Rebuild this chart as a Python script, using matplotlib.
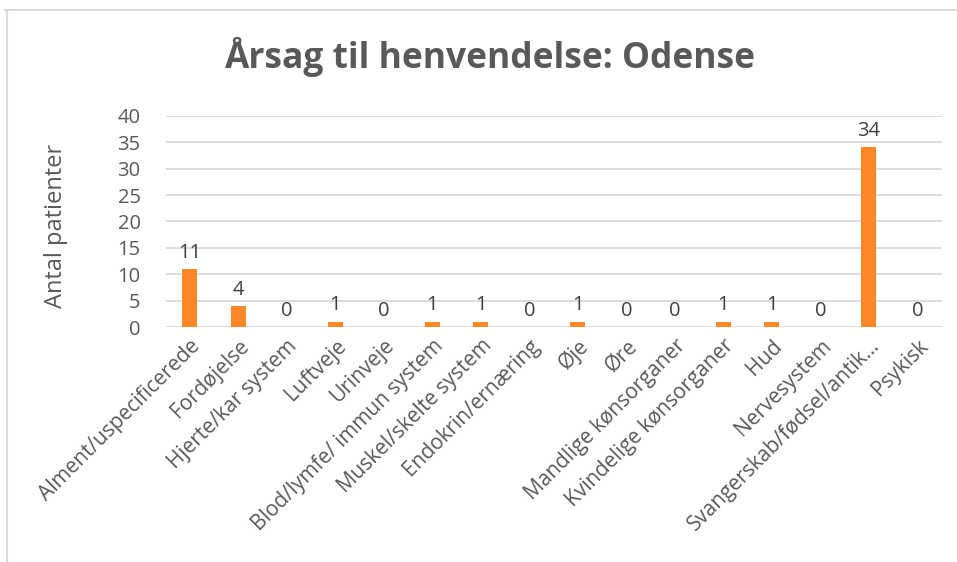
import matplotlib.pyplot as plt
from matplotlib.lines import Line2D

categories = ['Alment/uspecificerede', 'Fordøjelse', 'Hjerte/kar system', 'Luftveje',
              'Urinveje', 'Blod/lymfe/ immun system', 'Muskel/skelte system',
              'Endokrin/ernæring', 'Øje', 'Øre', 'Mandlige kønsorganer',
              'Kvindelige kønsorganer', 'Hud', 'Nervesystem',
              'Svangerskab/fødsel/antik...', 'Psykisk']
patients = [11, 4, 0, 1, 0, 1, 1, 0, 1, 0, 0, 1, 1, 0, 34, 0]
y_ticks = [0, 5, 10, 15, 20, 25, 30, 35, 40]

plt.rcParams['font.family'] = ['Open Sans', 'DejaVu Sans']
text_col = '#595959'

fig = plt.figure(figsize=(9.57, 5.62), dpi=100)
ax = fig.add_axes([0.173, 0.418, 0.811, 0.376])

x = list(range(len(categories)))
ax.bar(x, patients, width=0.31, color='#FF8726', zorder=3)
for xi, v in zip(x, patients):
    ax.text(xi, v + 1.2, str(v), ha='center', va='bottom', fontsize=14.5, color='#404040', zorder=4)

ax.set_xlim(-0.5, len(categories) - 0.5)
ax.set_ylim(0, 40)
ax.set_yticks(y_ticks)
ax.set_xticks(x)
ax.set_xticklabels(categories, rotation=45, ha='right', rotation_mode='anchor',
                   fontsize=15, color=text_col)
ax.tick_params(axis='y', length=0, pad=18, labelsize=14.5, labelcolor=text_col)
ax.tick_params(axis='x', length=0, pad=6)
ax.grid(axis='y', color='#D9D9D9', linewidth=1.3, zorder=0)
for s in ax.spines.values():
    s.set_visible(False)
ax.set_ylabel('Antal patienter', fontsize=17, color=text_col)
ax.yaxis.set_label_coords(-0.126, 0.48)

fig.text(0.512, 1 - 57 / 562, 'Årsag til henvendelse: Odense', ha='center', va='center',
         fontsize=25.5, fontweight='bold', color=text_col)

# chart frame (top and left edges)
fig.add_artist(Line2D([0.005, 1.0], [1 - 10 / 562, 1 - 10 / 562], color='#D9D9D9', linewidth=1.5))
fig.add_artist(Line2D([7 / 957, 7 / 957], [0, 1 - 10 / 562], color='#D9D9D9', linewidth=1.5))

fig.savefig('out.png', dpi=100)
